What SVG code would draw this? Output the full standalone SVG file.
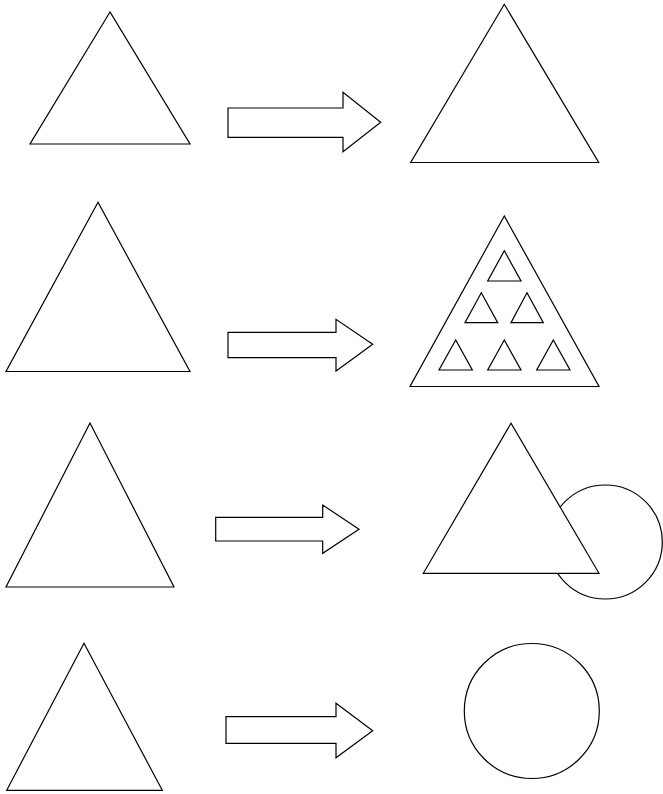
<svg xmlns="http://www.w3.org/2000/svg" width="663" height="794" viewBox="0 0 663 794">
<style>
.s{fill:#fff;stroke:#000;stroke-width:1.2;stroke-linejoin:miter}
</style>
<rect width="663" height="794" fill="#fff"/>
<g id="row1">
<g id="tri1-left"><polygon class="s" points="110,12 30,144 190,144"/></g>
<g id="tri1-right"><polygon class="s" points="504.3,4.3 410.7,162.5 598.7,162.5"/></g>
</g>
<g id="row2">
<g id="tri2-left"><polygon class="s" points="98,202.3 6,371.5 190,371.5"/></g>
<g id="tri2-right">
<polygon class="s" points="504.3,216 410,386.5 599,386.5"/>
<polygon class="s" points="504.3,250.7 487.7,281 521,281"/>
<polygon class="s" points="481.3,292.7 465,322.7 497.7,322.7"/>
<polygon class="s" points="527,292.7 511,322.7 543.3,322.7"/>
<polygon class="s" points="455.7,340 439,370 472.3,370"/>
<polygon class="s" points="504.3,340 487.7,370 521,370"/>
<polygon class="s" points="553.3,340 536.7,370 570,370"/>
</g>
</g>
<g id="row3">
<g id="tri3-left"><polygon class="s" points="90,423 6,587 174,587"/></g>
<g id="tri3-right">
<circle class="s" cx="605.3" cy="542" r="57"/>
<polygon class="s" points="511,423.3 423.3,573.3 599,573.3"/>
</g>
</g>
<g id="row4">
<g id="tri4-left"><polygon class="s" points="84,643.3 6.7,790.3 162.3,790.3"/></g>
<g id="circle4"><circle class="s" cx="531.8" cy="711" r="67.5"/></g>
</g>
<g id="connectors">
<path class="s" d="M228,108 L343,108 L343,92.3 L380.7,122.3 L343,151.7 L343,137.3 L228,137.3 Z"/>
<path class="s" d="M228,332.3 L336,332.3 L336,319.3 L372.7,344.3 L336,371 L336,357.7 L228,357.7 Z"/>
<path class="s" d="M215.7,517.3 L322.7,517.3 L322.7,505 L359,529.3 L322.7,553.3 L322.7,541 L215.7,541 Z"/>
<path class="s" d="M226,716.7 L336,716.7 L336,703.3 L372.7,730.7 L336,757.7 L336,743.3 L226,743.3 Z"/>
</g>
</svg>
